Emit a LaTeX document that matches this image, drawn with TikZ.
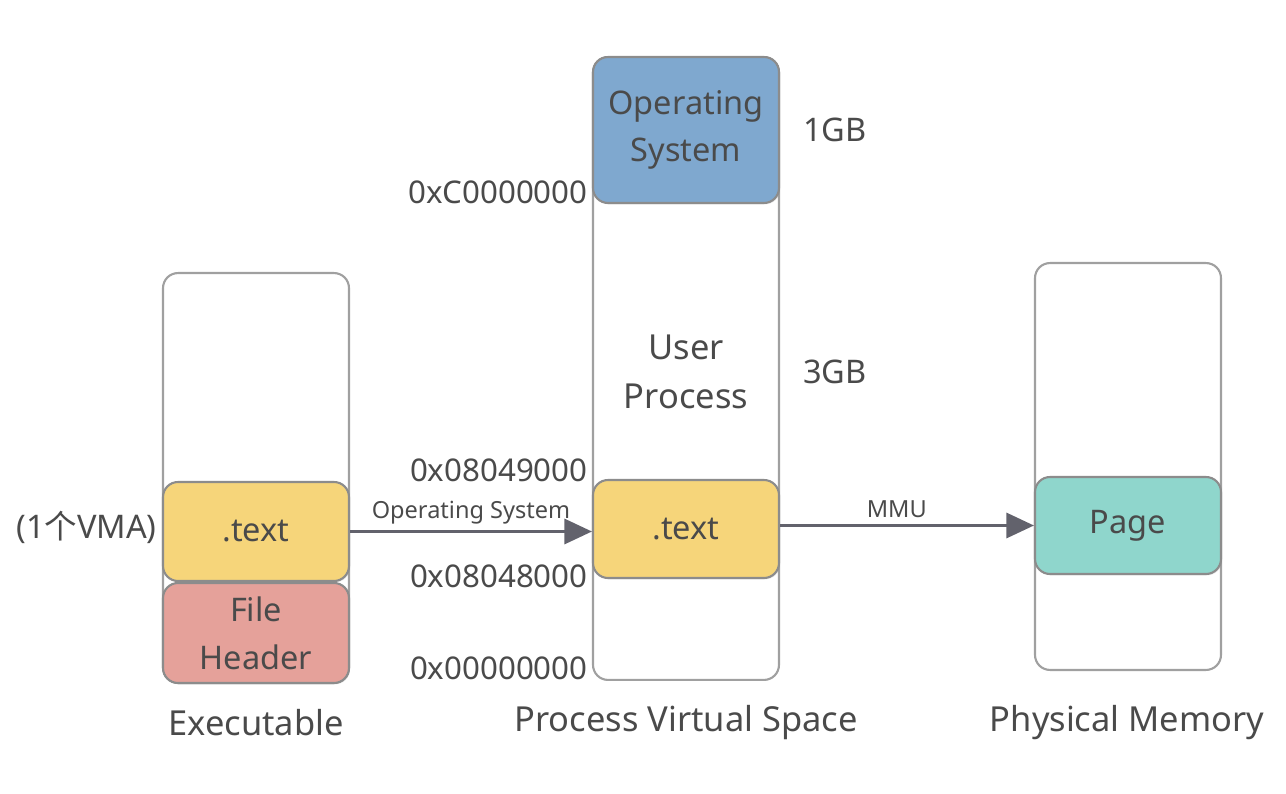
\documentclass[tikz,border=0pt]{standalone}
\usepackage{fontspec}
\setmainfont{Noto Sans}
\newfontfamily\cjk{Noto Sans CJK SC}
\usetikzlibrary{arrows.meta,shadows}

\definecolor{textgray}{HTML}{4A4A4A}
\definecolor{outerline}{HTML}{A0A0A0}
\definecolor{segline}{HTML}{8C8C8C}
\definecolor{linkgray}{HTML}{62626C}
\definecolor{textyellow}{HTML}{F6D57A}
\definecolor{headerred}{HTML}{E5A19A}
\definecolor{osblue}{HTML}{7FA8CF}
\definecolor{pageteal}{HTML}{8FD6CC}

\tikzset{
    bigtext/.style={font=\fontsize{18.5}{27.2}\selectfont, text=textgray},
    titletext/.style={font=\fontsize{19.6}{24}\selectfont, text=textgray},
    addrtext/.style={font=\fontsize{17.8}{22}\selectfont, text=textgray, anchor=east, inner sep=0pt},
    smalltext/.style={font=\fontsize{13.4}{16}\selectfont, text=textgray},
    memory/.style={draw=outerline, line width=1.2pt, fill=white, rounded corners=0.3cm,
        minimum width=3.72cm, inner sep=0pt},
    segment/.style={draw=segline, line width=1.2pt, fill=#1, rounded corners=0.3cm,
        minimum width=3.72cm, inner sep=0pt, align=center, bigtext,
        drop shadow={opacity=0.18, shadow xshift=0.6pt, shadow yshift=-0.8pt}},
    link/.style={draw=linkgray, line width=1.7pt, -{Triangle[length=0.55cm,width=0.5cm]}}
}

\begin{document}
\begin{tikzpicture}[x=0.02cm, y=-0.02cm]

    %--------------------%
    % Canvas
    %--------------------%
    \useasboundingbox (0,0) rectangle (1286,794);

    %--------------------%
    % Executable
    %--------------------%
    \node[memory, minimum height=8.2cm] (exe) at (256,478) {};
    \node[segment=textyellow, minimum height=1.98cm] (exetext) at (256,531.5) {.text};
    \node[segment=headerred, minimum height=2cm] (header) at (256,633) {File\\Header};
    \node[bigtext, anchor=east, inner sep=0pt] (vma) at (157,527) {(1{\cjk 个}VMA)};
    \node[titletext] (exelabel) at (256,723) {Executable};

    %--------------------%
    % Process Virtual Space
    %--------------------%
    \node[memory, minimum height=12.46cm] (pvs) at (686,368.5) {};
    \node[segment=osblue, minimum height=2.92cm] (os) at (686,130) {Operating\\System};
    \node[segment=textyellow, minimum height=1.96cm] (pvstext) at (686,529) {.text};
    \node[titletext, align=center, font=\fontsize{19.6}{27.6}\selectfont] (user) at (686,372) {User\\Process};
    \node[titletext] (pvslabel) at (686,723) {Process Virtual Space};

    % Sizes and addresses
    \node[bigtext] (kernelsize) at (835,130) {1GB};
    \node[bigtext] (usersize) at (835,372) {3GB};
    \node[addrtext] (addrc) at (588,192) {0xC0000000};
    \node[addrtext] (addrtop) at (588,470) {0x08049000};
    \node[addrtext] (addrbase) at (588,576) {0x08048000};
    \node[addrtext] (addrzero) at (588,668) {0x00000000};

    %--------------------%
    % Physical Memory
    %--------------------%
    \node[memory, minimum height=8.14cm] (pm) at (1128,466.5) {};
    \node[segment=pageteal, minimum height=1.94cm] (page) at (1128,525.5) {Page};
    \node[titletext] (pmlabel) at (1127,723) {Physical Memory};

    %--------------------%
    % Connections
    %--------------------%
    \draw[link] (exetext.east) -- node[smalltext, above, pos=0.5]{Operating System} (exetext.east -| pvstext.west);
    \draw[link] (page.west -| pvstext.east) -- node[smalltext, above, pos=0.46]{MMU} (page.west);

\end{tikzpicture}
\end{document}
